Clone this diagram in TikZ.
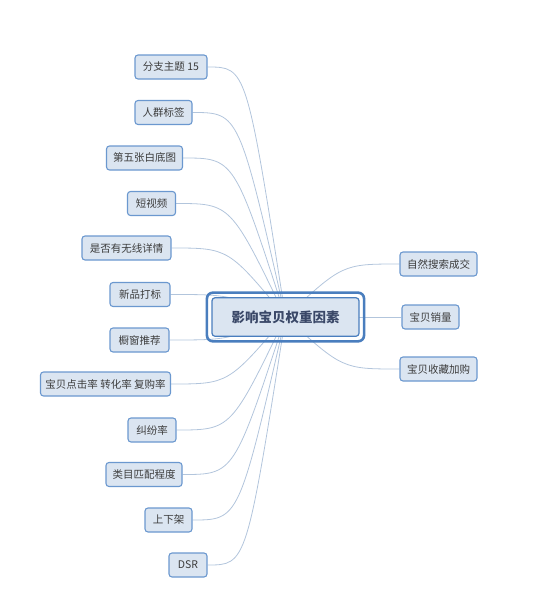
\documentclass[tikz,border=0pt]{standalone}
\usepackage{fontspec}
\setmainfont{Noto Sans CJK SC}
\usetikzlibrary{calc,backgrounds}
\definecolor{nodefill}{HTML}{DBE5F1}
\definecolor{nodeborder}{HTML}{6B98CF}
\definecolor{mainborder}{HTML}{4A7EBE}
\definecolor{conncol}{HTML}{B2C5DC}
\definecolor{txt}{HTML}{3C3C3C}
\definecolor{maintxt}{HTML}{3A4868}
\tikzset{
  topic/.style={draw=nodeborder, fill=nodefill, line width=1.1pt, rounded corners=3pt,
    minimum height=24pt, minimum width=#1, inner xsep=2pt, inner ysep=2pt,
    text=txt, font=\fontsize{10.5pt}{12pt}\selectfont},
  mainnode/.style={draw=mainborder, fill=nodefill, line width=1.2pt, rounded corners=3pt,
    minimum width=147pt, minimum height=38.5pt, text=maintxt,
    font=\fontsize{13.5pt}{16pt}\selectfont\bfseries},
  conn/.style={draw=conncol, line width=0.8pt}
}
\begin{document}
\begin{tikzpicture}[x=1pt,y=-1pt]
\useasboundingbox (0,0) rectangle (554,597);
\node[mainnode] (c) at (285.5,317) {影响宝贝权重因素};
\draw[draw=mainborder, line width=2.6pt, rounded corners=6pt]
  ([xshift=-4.5pt,yshift=-4.5pt]c.south west) rectangle ([xshift=4.5pt,yshift=4.5pt]c.north east);

\node[topic=72pt] (n1) at (171,67) {分支主题 15};
\node[topic=57pt] (n2) at (163.5,112.5) {人群标签};
\node[topic=76pt] (n3) at (144.5,158) {第五张白底图};
\node[topic=48pt] (n4) at (151.5,203.5) {短视频};
\node[topic=89pt] (n5) at (126.5,248) {是否有无线详情};
\node[topic=60pt] (n6) at (140,294.5) {新品打标};
\node[topic=59pt] (n7) at (139.5,340) {橱窗推荐};
\node[topic=130pt] (n8) at (105.5,384) {宝贝点击率 转化率 复购率};
\node[topic=48pt] (n9) at (152,430) {纠纷率};
\node[topic=76pt] (n10) at (144,474.5) {类目匹配程度};
\node[topic=47pt] (n11) at (168.5,520) {上下架};
\node[topic=38pt] (n12) at (188,565) {DSR};
\node[topic=77pt] (r1) at (438.5,264) {自然搜索成交};
\node[topic=57pt] (r2) at (430.5,317) {宝贝销量};
\node[topic=77pt] (r3) at (438.5,369) {宝贝收藏加购};

\begin{scope}[on background layer]
\foreach \n in {n1,n2,n3,n4,n5,n6,n7,n8,n9,n10,n11,n12} {
  \path ($(c.center)!0.5!(\n.east)$) coordinate (tmp);
  \draw[conn] (\n.east) .. controls (tmp |- \n.east) .. (c.center);
}
\foreach \n in {r1,r2,r3} {
  \path ($(c.center)!0.5!(\n.west)$) coordinate (tmp);
  \draw[conn] (\n.west) .. controls (tmp |- \n.west) .. (c.center);
}
\end{scope}
\end{tikzpicture}
\end{document}
